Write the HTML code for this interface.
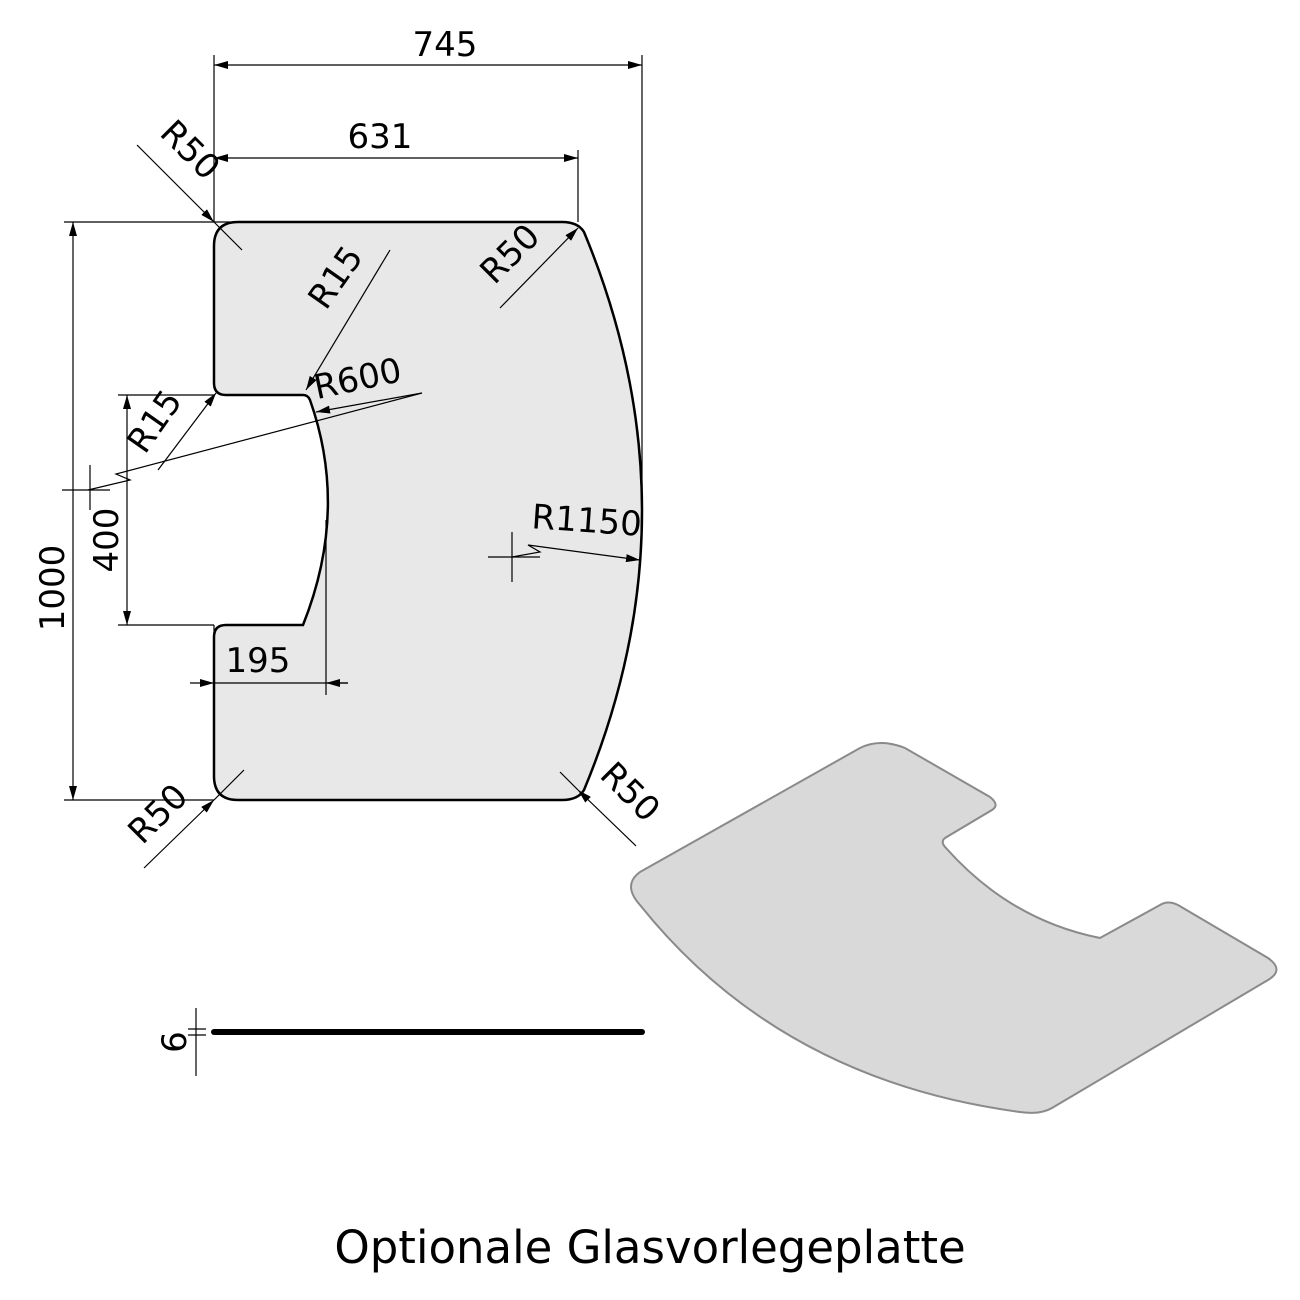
<!DOCTYPE html>
<html><head><meta charset="utf-8"><style>body{margin:0;background:#fff}svg{display:block}</style></head><body>
<svg width="1300" height="1300" viewBox="0 0 1300 1300" xmlns="http://www.w3.org/2000/svg" font-family="DejaVu Sans, Liberation Sans, sans-serif">
<defs><marker id="a" markerWidth="14" markerHeight="8" refX="14" refY="4" orient="auto-start-reverse" markerUnits="userSpaceOnUse"><path d="M0,0 L14,4 L0,8 z" fill="#000"/></marker></defs>
<path d="M238,222 L562,222 Q578,222 584,232 Q700,511 584,790 Q578,800 562,800 L238,800 Q214,800 214,776 L214,637 Q214,625 226,625 L303,625 Q349,510 310,400 Q308,395 303,395 L226,395 Q214,395 214,383 L214,246 Q214,222 238,222 Z" fill="#e8e8e8" stroke="#000" stroke-width="2.5"/>
<g stroke="#000" stroke-width="1.2" fill="none">
<line x1="214" y1="55" x2="214" y2="222"/><line x1="642" y1="55" x2="642" y2="511"/><line x1="578" y1="150" x2="578" y2="222"/>
<line x1="214" y1="65" x2="642" y2="65" marker-start="url(#a)" marker-end="url(#a)"/>
<line x1="214" y1="158" x2="578" y2="158" marker-start="url(#a)" marker-end="url(#a)"/>
<line x1="64" y1="222" x2="230" y2="222"/><line x1="64" y1="800" x2="214" y2="800"/>
<line x1="73" y1="222" x2="73" y2="800" marker-start="url(#a)" marker-end="url(#a)"/>
<line x1="118" y1="395" x2="214" y2="395"/><line x1="118" y1="625" x2="214" y2="625"/>
<line x1="127" y1="395" x2="127" y2="625" marker-start="url(#a)" marker-end="url(#a)"/>
<line x1="214" y1="625" x2="214" y2="695"/><line x1="326" y1="520" x2="326" y2="695"/>
<line x1="190" y1="683" x2="214" y2="683" marker-end="url(#a)"/><line x1="214" y1="683" x2="348" y2="683"/><line x1="326" y1="683" x2="348" y2="683" marker-start="url(#a)"/>
<line x1="137" y1="145" x2="214" y2="222" marker-end="url(#a)"/><line x1="214" y1="222" x2="242" y2="250"/>
<line x1="500" y1="308" x2="578" y2="228" marker-end="url(#a)"/>
<line x1="144" y1="868" x2="214" y2="800" marker-end="url(#a)"/><line x1="214" y1="800" x2="244" y2="770"/>
<line x1="636" y1="846" x2="578" y2="790" marker-end="url(#a)"/><line x1="578" y1="790" x2="560" y2="772"/>
<line x1="390" y1="250" x2="306" y2="390" marker-end="url(#a)"/>
<line x1="158" y1="470" x2="216" y2="393" marker-end="url(#a)"/>
<path d="M88,490 L130,480 L116,474 L422,393"/>
<line x1="422" y1="393" x2="316" y2="412" marker-end="url(#a)"/>
<line x1="62" y1="490" x2="110" y2="490"/><line x1="90" y1="465" x2="90" y2="510"/>
<path d="M512,557 L540,552 L528,545 L640,560" marker-end="url(#a)"/>
<line x1="488" y1="557" x2="540" y2="557"/><line x1="512" y1="532" x2="512" y2="582"/>
<line x1="196" y1="1008" x2="196" y2="1076"/><line x1="188" y1="1029" x2="206" y2="1029"/><line x1="188" y1="1035" x2="206" y2="1035"/>
</g>
<line x1="214" y1="1032" x2="642" y2="1032" stroke="#000" stroke-width="6" stroke-linecap="round"/>
<g font-size="34" fill="#000" text-anchor="middle">
<text x="445" y="56">745</text><text x="380" y="148">631</text><text x="258" y="672">195</text>
<text transform="translate(64,588) rotate(-90)">1000</text>
<text transform="translate(118,540) rotate(-90)">400</text>
<text transform="translate(182,158) rotate(45)">R50</text>
<text transform="translate(518,262) rotate(-45)">R50</text>
<text transform="translate(166,822) rotate(-45)">R50</text>
<text transform="translate(622,800) rotate(45)">R50</text>
<text transform="translate(345,284) rotate(-55)">R15</text>
<text transform="translate(164,428) rotate(-55)">R15</text>
<text transform="translate(360,390) rotate(-12)">R600</text>
<text transform="translate(586,532) rotate(4)">R1150</text>
<text transform="translate(186,1042) rotate(-90)">6</text>
</g>
<path d="M640,872 L860,748 Q880,738 905,748 L990,797 Q1000,805 992,810 L945,838 Q940,842 946,848 Q1010,920 1100,938 L1160,905 Q1168,900 1178,905 L1268,958 Q1285,970 1268,980 L1052,1108 Q1040,1115 1020,1112 Q780,1080 640,905 Q622,885 640,872 Z" fill="#d9d9d9" stroke="#8a8a8a" stroke-width="2"/>
<text x="650" y="1263" font-size="45" text-anchor="middle" fill="#000">Optionale Glasvorlegeplatte</text>
</svg>
</body></html>
